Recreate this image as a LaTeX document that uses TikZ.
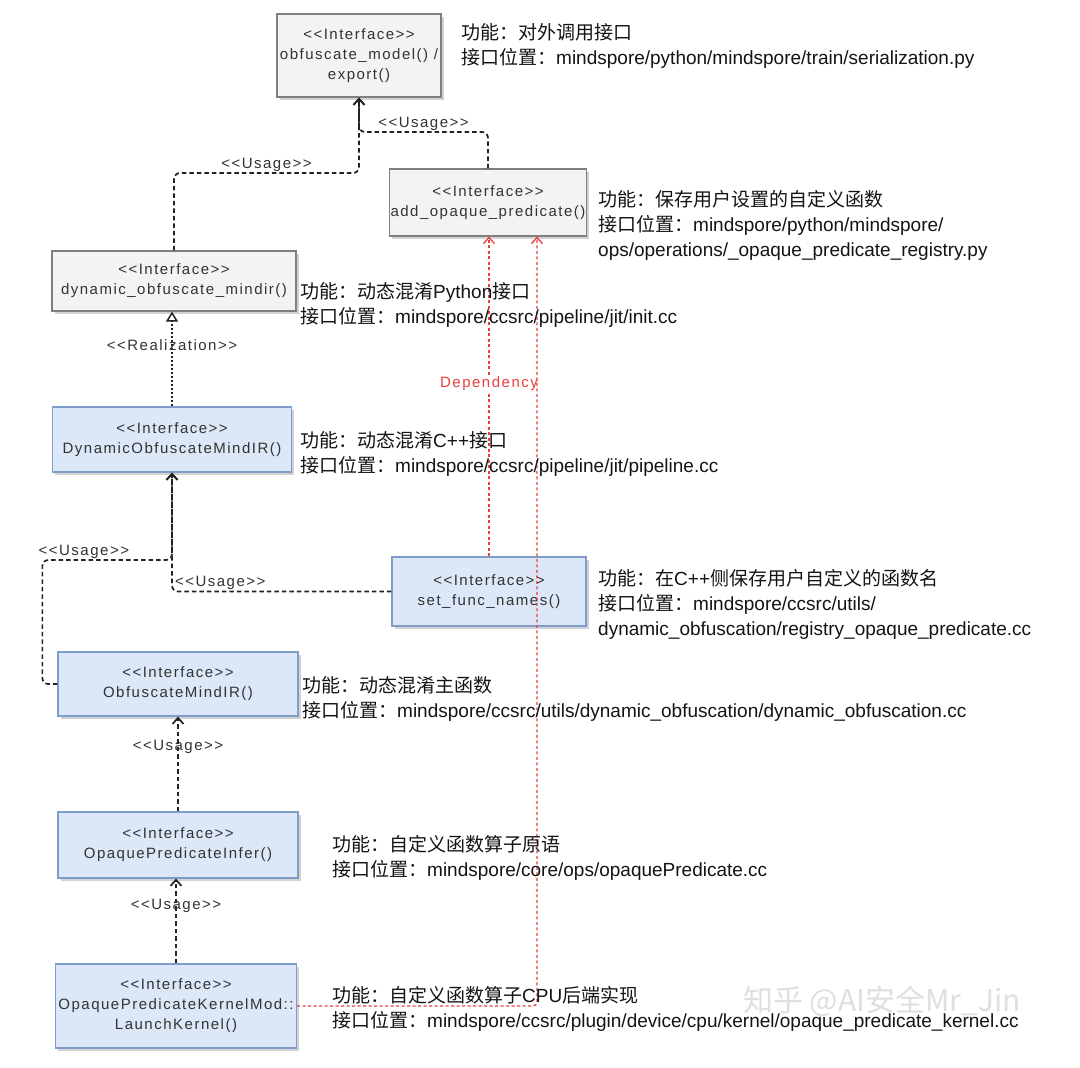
\documentclass[tikz,border=0pt]{standalone}
\usepackage{fontspec}
\usepackage{tikz}
\usetikzlibrary{arrows.meta,shadows}
\setmainfont[LetterSpace=10]{Liberation Sans}
\newfontfamily\notefont{Liberation Sans}
\newfontfamily\cjk{Noto Sans CJK SC}

\definecolor{boxgray}{HTML}{7F7F7F}
\definecolor{fillgray}{HTML}{F3F3F3}
\definecolor{boxblue}{HTML}{7E9DCB}
\definecolor{fillblue}{HTML}{DCE8F8}
\definecolor{textgray}{HTML}{333333}
\definecolor{linegray}{HTML}{222222}
\definecolor{depred}{HTML}{E8403F}

\newcommand{\stereo}[1]{<{}<#1>{}>}

\begin{document}
\begin{tikzpicture}[x=1pt, y=-1pt,
    gbox/.style={draw=boxgray, fill=fillgray, line width=1.3pt, align=center, text=textgray,
        font=\fontsize{15}{20}\selectfont, inner sep=1pt,
        drop shadow={shadow xshift=2.5pt, shadow yshift=-2.5pt, opacity=0.35}},
    bbox/.style={gbox, draw=boxblue, fill=fillblue},
    tag/.style={text=textgray, font=\fontsize{15}{17}\selectfont, inner sep=1pt},
    note/.style={anchor=west, align=left, inner sep=0pt, text=black!92,
        font=\notefont\fontsize{19}{25}\selectfont},
    usage/.style={draw=linegray, line width=1.7pt, dash pattern=on 4.5pt off 3pt, rounded corners=6pt,
        -{Straight Barb[length=6pt, width=11pt, line width=1.7pt]}},
    realize/.style={draw=linegray, line width=1.7pt, dash pattern=on 2pt off 2pt,
        -{Triangle[open, length=10pt, width=12pt, line width=1.5pt, fill=white]}},
    depend/.style={draw=depred, line width=1.3pt, dash pattern=on 3pt off 2.5pt, rounded corners=4pt,
        -{Straight Barb[length=6pt, width=11pt, line width=1.3pt]}}]

    % Canvas
    \fill[white] (0,0) rectangle (1080,1068);
    \useasboundingbox (0,0) rectangle (1080,1068);

    % Interfaces
    \node[gbox, minimum width=164pt, minimum height=83pt] (model) at (359,55.5) {\stereo{Interface}\\obfuscate\_model() /\\export()};
    \node[gbox, minimum width=197pt, minimum height=67pt] (addop) at (488,202.5) {\stereo{Interface}\\add\_opaque\_predicate()};
    \node[gbox, minimum width=244pt, minimum height=60pt] (dynpy) at (174,281) {\stereo{Interface}\\dynamic\_obfuscate\_mindir()};
    \node[bbox, minimum width=239pt, minimum height=65pt] (dyncpp) at (172,439.5) {\stereo{Interface}\\DynamicObfuscateMindIR()};
    \node[bbox, minimum width=194pt, minimum height=69pt] (setfn) at (489,591.5) {\stereo{Interface}\\set\_func\_names()};
    \node[bbox, minimum width=240pt, minimum height=64pt] (obfmain) at (178,684) {\stereo{Interface}\\ObfuscateMindIR()};
    \node[bbox, minimum width=240pt, minimum height=66pt] (infer) at (178,845) {\stereo{Interface}\\OpaquePredicateInfer()};
    \node[bbox, minimum width=241pt, minimum height=84pt] (kernel) at (176,1006) {\stereo{Interface}\\OpaquePredicateKernelMod::\\LaunchKernel()};

    % Usage and realization
    \draw[usage] (dynpy.north) -- (dynpy.north |- 0,173) -| node[tag, pos=0.25, above] {\stereo{Usage}} (model.south);
    \draw[usage] (addop.north) -- (addop.north |- 0,132) -| node[tag, pos=0.25, above] {\stereo{Usage}} (model.south);
    \draw[realize] (dyncpp.north) -- node[tag, pos=0.65] {\stereo{Realization}} (dyncpp.north |- dynpy.south);
    \draw[usage] (setfn.west) -| node[tag, pos=0.39, above] {\stereo{Usage}} (dyncpp.south);
    \draw[usage] (obfmain.west) -- ++(-15,0) |- node[tag, pos=0.66, above] {\stereo{Usage}} (dyncpp.south |- 0,560) -- (dyncpp.south);
    \foreach \a/\b in {infer/obfmain, kernel/infer}
        \draw[usage] (\a.north) -- node[tag, pos=0.68] {\stereo{Usage}} (\a.north |- \b.south);

    % Dependency
    \draw[depend] (setfn.north) -- node[pos=0.54, fill=white, text=depred, font=\fontsize{15}{17}\selectfont, inner sep=1pt] {Dependency} (setfn.north |- addop.south);
    \draw[depend] (kernel.east) -| ([xshift=49pt]addop.south);

    % Notes
    \node[note] (modelnote) at (461,46) {{\cjk 功能：对外调用接口}\\{\cjk 接口位置：}mindspore/python/mindspore/train/serialization.py};
    \node[note] (addopnote) at (598,225) {{\cjk 功能：保存用户设置的自定义函数}\\{\cjk 接口位置：}mindspore/python/mindspore/\\ops/operations/\_opaque\_predicate\_registry.py};
    \node[note] (dynpynote) at (300,305) {{\cjk 功能：动态混淆}Python{\cjk 接口}\\{\cjk 接口位置：}mindspore/ccsrc/pipeline/jit/init.cc};
    \node[note] (dyncppnote) at (300,454) {{\cjk 功能：动态混淆}C++{\cjk 接口}\\{\cjk 接口位置：}mindspore/ccsrc/pipeline/jit/pipeline.cc};
    \node[note] (setfnnote) at (598,604) {{\cjk 功能：在}C++{\cjk 侧保存用户自定义的函数名}\\{\cjk 接口位置：}mindspore/ccsrc/utils/\\dynamic\_obfuscation/registry\_opaque\_predicate.cc};
    \node[note] (obfmainnote) at (302,698.5) {{\cjk 功能：动态混淆主函数}\\{\cjk 接口位置：}mindspore/ccsrc/utils/dynamic\_obfuscation/dynamic\_obfuscation.cc};
    \node[note] (infernote) at (332,858) {{\cjk 功能：自定义函数算子原语}\\{\cjk 接口位置：}mindspore/core/ops/opaquePredicate.cc};
    \node[note] (kernelnote) at (332,1008.5) {{\cjk 功能：自定义函数算子}CPU{\cjk 后端实现}\\{\cjk 接口位置：}mindspore/ccsrc/plugin/device/cpu/kernel/opaque\_predicate\_kernel.cc};

    % Watermark
    \node[text=gray!35, opacity=0.7, font=\cjk\fontsize{30}{32}\selectfont] (zhihu) at (882,1001) {知乎 @AI安全Mr\_Jin};
\end{tikzpicture}
\end{document}
